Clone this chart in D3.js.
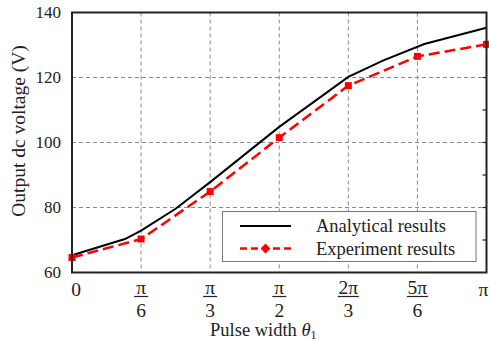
<!DOCTYPE html>
<html><head><meta charset="utf-8">
<script src="https://cdn.jsdelivr.net/npm/d3@7"></script>
<style>
body{margin:0;background:#fff;}
svg{display:block;font-family:"Liberation Serif","Times New Roman",serif;}
</style></head>
<body><div id="chart"></div>
<script>
// ---- data ----
const analyticalTheta = [0, 23, 30, 45, 60, 90, 120, 135, 153, 180]; // degrees
const analyticalValues = [65.3, 70.3, 72.9, 79.6, 87.8, 104.8, 120.2, 125.2, 130.3, 135.3];
const experimentTheta = [0, 30, 60, 90, 120, 150, 180];
const experimentValues = [64.6, 70.3, 84.9, 101.5, 117.5, 126.5, 130.2];
const xTickValues = [0, 30, 60, 90, 120, 150, 180];
const xTickLabels = ["0", "π/6", "π/3", "π/2", "2π/3", "5π/6", "π"];
const yTickValues = [60, 80, 100, 120, 140];
const yMinorTicks = [70, 90, 110, 130];
const seriesNames = ["Analytical results", "Experiment results"];

const W = 489, H = 341;
const svg = d3.select("#chart").append("svg").attr("width", W).attr("height", H);

const x = d3.scaleLinear().domain([0, 180]).range([72, 486.5]);
const y = d3.scaleLinear().domain([60, 140]).range([272.5, 12.5]);

const textColor = "#222";

// grid
const grid = svg.append("g").attr("stroke", "#8a8a8a").attr("stroke-width", 1).attr("stroke-dasharray", "4,3");
grid.selectAll("line.v").data(xTickValues.slice(1, -1)).join("line")
  .attr("x1", d => x(d)).attr("x2", d => x(d)).attr("y1", y(140)).attr("y2", y(60));
grid.selectAll("line.h").data(yTickValues.slice(1, -1)).join("line")
  .attr("x1", x(0)).attr("x2", x(180)).attr("y1", d => y(d)).attr("y2", d => y(d));

// minor ticks on right border
svg.append("g").selectAll("line").data(yMinorTicks.concat(yTickValues.slice(1,-1))).join("line")
  .attr("x1", x(180) - 4).attr("x2", x(180)).attr("y1", d => y(d)).attr("y2", d => y(d))
  .attr("stroke", "#222").attr("stroke-width", 1.2);

// lines
const line = d3.line().x(d => x(d[0])).y(d => y(d[1]));
const aData = analyticalTheta.map((t, i) => [t, analyticalValues[i]]);
const eData = experimentTheta.map((t, i) => [t, experimentValues[i]]);

svg.append("path").datum(aData).attr("d", line)
  .attr("fill", "none").attr("stroke", "#000").attr("stroke-width", 2);
svg.append("path").datum(eData).attr("d", line)
  .attr("fill", "none").attr("stroke", "#ff0000").attr("stroke-width", 2.5)
  .attr("stroke-dasharray", "11,5");
svg.append("g").selectAll("rect").data(eData).join("rect")
  .attr("x", d => x(d[0]) - 3.5).attr("y", d => y(d[1]) - 3.5)
  .attr("width", 7).attr("height", 7).attr("fill", "#ff0000");

// frame
svg.append("rect").attr("x", x(0)).attr("y", y(140)).attr("width", x(180) - x(0)).attr("height", y(60) - y(140))
  .attr("fill", "none").attr("stroke", "#222").attr("stroke-width", 2);

// y tick labels
svg.append("g").selectAll("text").data(yTickValues).join("text")
  .attr("x", 61).attr("y", d => y(d)).attr("dy", "0.35em").attr("text-anchor", "end")
  .attr("font-size", 17).attr("fill", textColor).text(d => d);

// x tick labels
const xl = svg.append("g").attr("fill", textColor).attr("font-size", 19.5);
xTickValues.forEach((v, i) => {
  const lab = xTickLabels[i];
  let cx = x(v);
  if (i === 0) cx += 4;
  if (i === xTickValues.length - 1) cx -= 3;
  if (lab.includes("/")) {
    const [num, den] = lab.split("/");
    xl.append("text").attr("x", cx).attr("y", 294).attr("text-anchor", "middle").text(num);
    xl.append("text").attr("x", cx).attr("y", 316.5).attr("text-anchor", "middle").text(den);
    const bw = num.length > 1 ? 21 : 14;
    xl.append("line").attr("x1", cx - bw / 2).attr("x2", cx + bw / 2).attr("y1", 296.5).attr("y2", 296.5)
      .attr("stroke", textColor).attr("stroke-width", 1.2);
  } else {
    xl.append("text").attr("x", cx).attr("y", 296).attr("text-anchor", "middle").text(lab);
  }
});

// axis titles
const xt = svg.append("text").attr("x", 210).attr("y", 336).attr("font-size", 18.5).attr("fill", textColor);
xt.append("tspan").text("Pulse width ");
xt.append("tspan").attr("font-style", "italic").text("θ");
xt.append("tspan").attr("font-size", 12).attr("dy", 3).text("1");

svg.append("text").attr("transform", "translate(25,131) rotate(-90)")
  .attr("text-anchor", "middle").attr("font-size", 19.5).attr("fill", textColor)
  .text("Output dc voltage (V)");

// legend
const lg = svg.append("g");
lg.append("rect").attr("x", 222.5).attr("y", 211.5).attr("width", 253.5).attr("height", 50)
  .attr("fill", "#fff").attr("stroke", "#777").attr("stroke-width", 1);
lg.append("line").attr("x1", 240).attr("x2", 291).attr("y1", 226).attr("y2", 226)
  .attr("stroke", "#000").attr("stroke-width", 2);
lg.append("line").attr("x1", 240).attr("x2", 291).attr("y1", 248.5).attr("y2", 248.5)
  .attr("stroke", "#ff0000").attr("stroke-width", 2.5).attr("stroke-dasharray", "7,4");
lg.append("rect").attr("x", 265.5 - 3.5).attr("y", 248.5 - 3.5).attr("width", 7).attr("height", 7)
  .attr("fill", "#ff0000").attr("transform", "rotate(45,265.5,248.5)");
lg.selectAll("text").data(seriesNames).join("text")
  .attr("x", 316).attr("y", (d, i) => 232 + i * 22.5)
  .attr("font-size", 18.5).attr("fill", textColor).text(d => d);
</script></body></html>
